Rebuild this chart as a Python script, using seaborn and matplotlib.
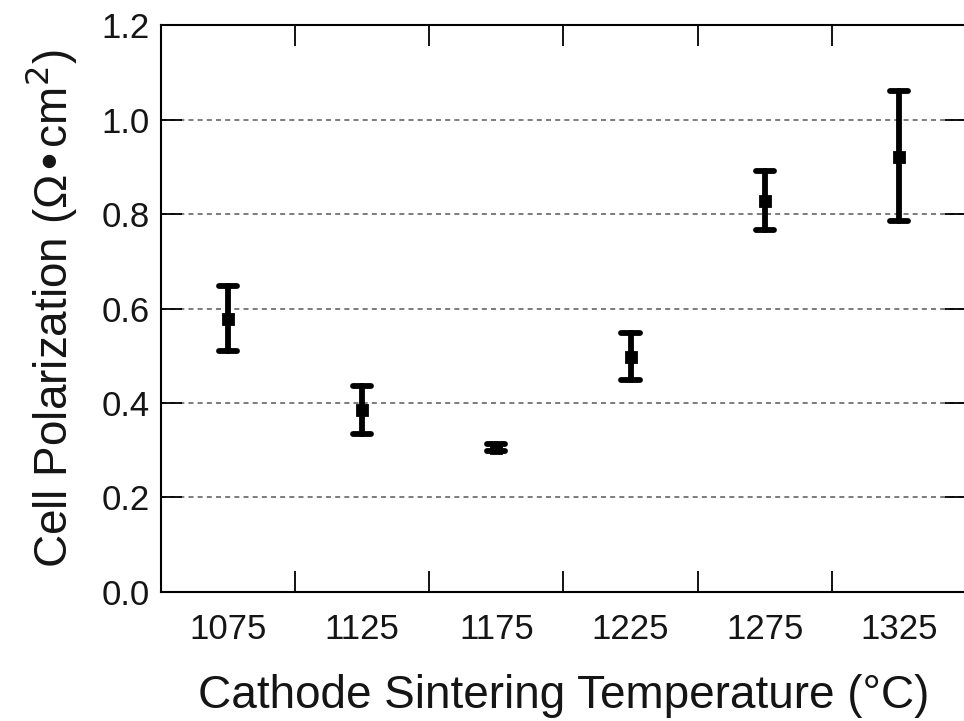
import numpy as np
import pandas as pd
import seaborn as sns
import matplotlib.pyplot as plt
from matplotlib.ticker import FixedLocator

temps = ["1075", "1125", "1175", "1225", "1275", "1325"]
center = [0.577, 0.385, 0.305, 0.497, 0.827, 0.921]
lower = [0.510, 0.334, 0.298, 0.449, 0.766, 0.785]
upper = [0.648, 0.436, 0.313, 0.548, 0.891, 1.060]

# three rows per temperature: median is the point, min/max are the bar ends
df = pd.DataFrame({
    "temp": np.repeat(temps, 3),
    "pol": np.ravel(np.column_stack([lower, center, upper])),
})

sns.set_style("ticks")
plt.rcParams["font.family"] = ["Liberation Sans", "DejaVu Sans"]
txt = "#151515"

fig = plt.figure(figsize=(9.64, 7.21), dpi=100)
ax = fig.add_axes([0.167, 0.179, 0.835, 0.786])

sns.pointplot(data=df, x="temp", y="pol", estimator="median",
              errorbar=("pi", 100), order=temps, color="black",
              linestyle="none", marker="s", markersize=7.5,
              capsize=0.135, err_kws={"linewidth": 4.2}, ax=ax)

ax.set_xlim(-0.5, 5.5)
ax.set_ylim(0, 1.2)
ax.set_yticks(np.arange(0, 1.21, 0.2))
ax.set_yticklabels([f"{v:.1f}" for v in np.arange(0, 1.21, 0.2)])
ax.yaxis.grid(True, linestyle=(0, (3, 2.5)), color="#666666", linewidth=1.2)
ax.set_axisbelow(True)

ax.xaxis.set_minor_locator(FixedLocator(np.arange(0.5, 5.5, 1)))
ax.tick_params(axis="x", which="major", length=0, pad=15, labelsize=25,
               labelcolor=txt)
ax.tick_params(axis="x", which="minor", direction="in", length=15, width=1.3,
               top=True, bottom=True, color="black")
ax.tick_params(axis="y", which="major", direction="in", length=15, width=1.3,
               left=True, right=True, labelsize=25, pad=8, labelcolor=txt,
               color="black")

for s in ax.spines.values():
    s.set_linewidth(1.5)
    s.set_color("black")

ax.set_xlabel("Cathode Sintering Temperature (°C)", fontsize=33, labelpad=20,
              color=txt)
ax.set_ylabel("Cell Polarization (Ω•cm$^2$)", fontsize=33, labelpad=16,
              color=txt)

fig.savefig("out.png", dpi=100)
